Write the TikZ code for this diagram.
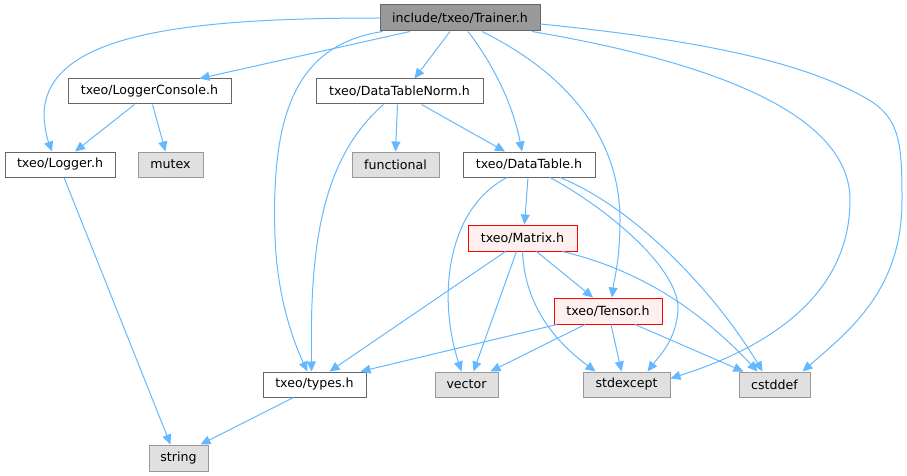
\documentclass[tikz,border=0pt]{standalone}
\usepackage{fontspec}
\setsansfont{DejaVu Sans}
\usepackage{xcolor}
\usepackage{tikz}
\usetikzlibrary{positioning,calc,arrows.meta}

\definecolor{edgeblue}{HTML}{63B8FF}
\definecolor{boxline}{HTML}{666666}
\definecolor{sysline}{HTML}{999999}
\definecolor{sysfill}{HTML}{E0E0E0}
\definecolor{redfill}{HTML}{FFF0F0}

\begin{document}
\begin{tikzpicture}[x=1pt, y=-1pt,
				box/.style={draw=boxline, fill=white, line width=1pt, minimum height=25pt, inner sep=0pt, font=\sffamily\fontsize{12.6}{14}\selectfont},
				sysbox/.style={box, draw=sysline, fill=sysfill},
				rootbox/.style={box, fill=sysline},
				redbox/.style={box, draw=red, fill=redfill},
				arr/.style={-{Triangle[length=10pt, width=9pt]}, edgeblue, line width=1pt}
				]
				
				\useasboundingbox (0,0) rectangle (907,476);
				
				% ==========================================
				% CÁC FILE (nodes)
				% ==========================================
				
				\node[rootbox, minimum width=160pt, minimum height=26pt] (trainer) at (460,18) {include/txeo/Trainer.h};
				
				% -- Hàng 2 --
				\node[box, minimum width=163pt] (console) at (149.5,91.5) {txeo/LoggerConsole.h};
				\node[box, minimum width=167pt] (norm) at (399.5,91.5) {txeo/DataTableNorm.h};
				
				% -- Hàng 3 --
				\node[box, minimum width=110pt] (logger) at (60,164.5) {txeo/Logger.h};
				\node[sysbox, minimum width=65pt] (mutex) at (170.5,164.5) {mutex};
				\node[sysbox, minimum width=87pt] (functional) at (395.5,164.5) {functional};
				\node[box, minimum width=132pt] (datatable) at (529,164.5) {txeo/DataTable.h};
				
				% -- Matrix, Tensor --
				\node[redbox, minimum width=109pt, minimum height=26pt] (matrix) at (522.5,238) {txeo/Matrix.h};
				\node[redbox, minimum width=108pt, minimum height=26pt] (tensor) at (608,311) {txeo/Tensor.h};
				
				% -- Hàng dưới --
				\node[box, minimum width=103pt] (types) at (314.5,384.5) {txeo/types.h};
				\node[sysbox, minimum width=63pt] (vector) at (466.5,384.5) {vector};
				\node[sysbox, minimum width=87pt] (stdexcept) at (626.5,384.5) {stdexcept};
				\node[sysbox, minimum width=71pt] (cstddef) at (774.5,384.5) {cstddef};
				\node[sysbox, minimum width=59pt, minimum height=26pt] (string) at (178.5,458) {string};
				
				% ==========================================
				% CÁC MŨI TÊN (include)
				% ==========================================
				
				% -- Trainer.h --
				\draw[arr] (trainer.west) .. controls (180,18) and (45,35) .. (44,115) .. controls (45,135) and (49,143) .. ([xshift=-8]logger.north);
				\draw[arr] ([xshift=-50]trainer.south) -- ([xshift=50]console.north);
				\draw[arr] ([xshift=3]trainer.south west) .. controls (295,45) and (271,115) .. (275,236) .. controls (277,300) and (295,345) .. ([xshift=-7]types.north);
				\draw[arr] ([xshift=-10]trainer.south) -- ([xshift=15]norm.north);
				\draw[arr] ([xshift=8]trainer.south) .. controls (490,60) and (512,100) .. ([xshift=-7]datatable.north);
				\draw[arr] ([xshift=22]trainer.south) .. controls (570,75) and (620,140) .. (620,220) .. controls (620,260) and (614,280) .. ([xshift=4]tensor.north);
				\draw[arr] ([xshift=72]trainer.south) .. controls (700,60) and (850,110) .. (850,200) .. controls (850,300) and (760,350) .. ([yshift=6]stdexcept.east);
				\draw[arr] ([yshift=-6]trainer.east) .. controls (700,40) and (800,62) .. (860,95) .. controls (900,115) and (902,140) .. (902,200) .. controls (902,290) and (850,330) .. ([xshift=28]cstddef.north);
				
				% -- LoggerConsole.h --
				\draw[arr] ([xshift=-15]console.south) -- ([xshift=15]logger.north);
				\draw[arr] ([xshift=3]console.south) -- ([xshift=-5]mutex.north);
				
				% -- DataTableNorm.h --
				\draw[arr] ([xshift=-16]norm.south) .. controls (320,160) and (310,250) .. ([xshift=-3]types.north);
				\draw[arr] ([xshift=-2]norm.south) -- (functional.north);
				\draw[arr] ([xshift=22]norm.south) -- ([xshift=-24]datatable.north);
				
				% -- DataTable.h --
				\draw[arr] ([xshift=-22]datatable.south) .. controls (445,210) and (438,300) .. ([xshift=-5]vector.north);
				\draw[arr] ([xshift=-1]datatable.south) -- ([xshift=2]matrix.north);
				\draw[arr] ([xshift=21]datatable.south) .. controls (610,210) and (680,270) .. (678,310) .. controls (676,340) and (660,355) .. ([xshift=21]stdexcept.north);
				\draw[arr] ([xshift=31]datatable.south) .. controls (640,210) and (720,300) .. ([xshift=-12]cstddef.north);
				
				% -- Matrix.h --
				\draw[arr] ([xshift=-17]matrix.south) -- ([xshift=15]types.north);
				\draw[arr] ([xshift=-6]matrix.south) -- ([xshift=7]vector.north);
				\draw[arr] (matrix.south) .. controls (525,310) and (560,345) .. ([xshift=-31]stdexcept.north);
				\draw[arr] ([xshift=14]matrix.south) -- ([xshift=-15]tensor.north);
				\draw[arr] ([xshift=40]matrix.south) .. controls (640,270) and (700,310) .. ([xshift=-17]cstddef.north);
				
				% -- Tensor.h --
				\draw[arr] ([xshift=-51]tensor.south) -- ([xshift=46]types.north);
				\draw[arr] ([xshift=-23]tensor.south) -- ([xshift=24]vector.north);
				\draw[arr] ([xshift=3]tensor.south) -- ([xshift=-5]stdexcept.north);
				\draw[arr] ([xshift=27]tensor.south) -- ([xshift=-31]cstddef.north);
				
				% -- types.h, Logger.h --
				\draw[arr] ([xshift=-21]types.south) -- ([xshift=22]string.north);
				\draw[arr] ([xshift=4]logger.south) -- ([xshift=-8]string.north);
				
			\end{tikzpicture}
\end{document}
